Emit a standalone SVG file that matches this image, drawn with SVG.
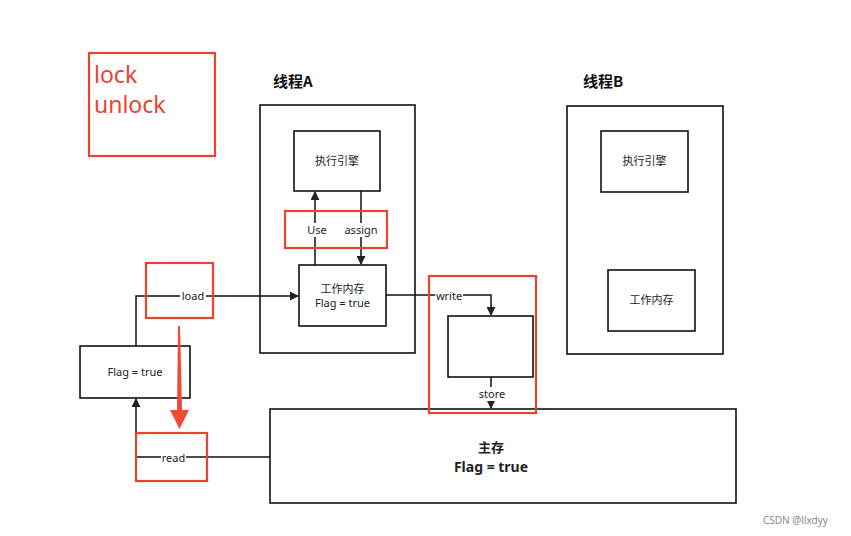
<svg xmlns="http://www.w3.org/2000/svg" width="851" height="536" viewBox="0 0 851 536">
<defs>
<marker id="arr" viewBox="0 0 10 10" refX="9" refY="5" markerWidth="9" markerHeight="9" orient="auto" markerUnits="userSpaceOnUse">
<path d="M0,0 L10,5 L0,10 Z" fill="#222"/>
</marker>
<style>
.box{fill:#fff;stroke:#111;stroke-width:1.6}
.red{fill:none;stroke:#e8432f;stroke-width:2.2}
.ln{fill:none;stroke:#111;stroke-width:1.5}
.t{font-family:"Noto Sans CJK SC","Noto Sans",sans-serif;font-size:11px;fill:#222;text-anchor:middle}
.lbl{font-family:"Noto Sans","Noto Sans CJK SC",sans-serif;font-size:11px;fill:#222;text-anchor:middle}
.h{font-family:"Noto Sans CJK SC","Noto Sans",sans-serif;font-size:15px;font-weight:bold;fill:#111}
.bg{fill:#fff}
</style>
</defs>
<rect width="851" height="536" fill="#fff"/>

<g id="threadA">
<text class="h" x="273" y="87">线程A</text>
<rect class="box" x="260" y="105" width="155" height="248"/>
</g>
<g id="threadB">
<text class="h" x="583" y="87">线程B</text>
<rect class="box" x="567" y="106" width="156" height="248"/>
</g>
<g id="engineA">
<rect class="box" x="294" y="131" width="86" height="60"/>
<text class="t" x="337" y="165">执行引擎</text>
</g>
<g id="workA">
<rect class="box" x="299" y="265" width="87" height="61"/>
<text class="t" x="342.5" y="293">工作内存</text>
<text class="lbl" x="342.5" y="307">Flag = true</text>
</g>
<g id="engineB">
<rect class="box" x="601" y="131" width="87" height="61"/>
<text class="t" x="644.5" y="165">执行引擎</text>
</g>
<g id="workB">
<rect class="box" x="608" y="270" width="87" height="61"/>
<text class="t" x="651.5" y="304">工作内存</text>
</g>
<g id="flagLeft">
<rect class="box" x="80" y="346" width="110" height="52"/>
<text class="lbl" x="135" y="376">Flag = true</text>
</g>
<g id="writeBox">
<rect class="box" x="448" y="316" width="85" height="61"/>
</g>
<g id="mainMem">
<rect class="box" x="270" y="409" width="466" height="94"/>
<text class="t" x="491" y="452" style="font-size:13px;font-weight:bold">主存</text>
<text class="lbl" x="491" y="472" style="font-size:14px;font-weight:bold">Flag = true</text>
</g>

<g id="connectors">
<path class="ln" d="M315,265 L315,192" marker-end="url(#arr)"/>
<path class="ln" d="M361,191 L361,264" marker-end="url(#arr)"/>
<path class="ln" d="M136,346 L136,296 L298,296" marker-end="url(#arr)"/>
<path class="ln" d="M270,457 L136,457 L136,399" marker-end="url(#arr)"/>
<path class="ln" d="M386,295 L491,295 L491,315" marker-end="url(#arr)"/>
<path class="ln" d="M491,377 L491,408" marker-end="url(#arr)"/>
<rect class="bg" x="306" y="223" width="22" height="14"/>
<text class="lbl" x="317" y="234">Use</text>
<rect class="bg" x="343" y="223" width="36" height="14"/>
<text class="lbl" x="361" y="234">assign</text>
<rect class="bg" x="180" y="289" width="26" height="14"/>
<text class="lbl" x="193" y="300">load</text>
<rect class="bg" x="161" y="451" width="25" height="14"/>
<text class="lbl" x="173.5" y="462">read</text>
<rect class="bg" x="435" y="289" width="28" height="14"/>
<text class="lbl" x="449" y="300">write</text>
<rect class="bg" x="477" y="387" width="30" height="14"/>
<text class="lbl" x="492" y="398">store</text>
</g>

<g id="annotations">
<rect class="red" x="89" y="53" width="126" height="103"/>
<text x="94" y="83" style="font-family:'Noto Sans','Open Sans',sans-serif;font-size:23px;fill:#e8432f">lock</text>
<text x="94" y="113" style="font-family:'Noto Sans','Open Sans',sans-serif;font-size:23px;fill:#e8432f">unlock</text>
<rect class="red" x="285" y="211" width="102" height="37"/>
<rect class="red" x="146" y="263" width="67" height="55"/>
<rect class="red" x="136" y="433" width="71" height="48"/>
<rect class="red" x="429" y="276" width="107" height="137"/>
<path d="M178,326 L180,326 L182,410 L189,410 L179.5,429 L170,410 L177,410 Z" fill="#f04a35"/>
</g>

<text x="763" y="524" style="font-family:'Noto Sans',sans-serif;font-size:10px;fill:#888">CSDN @llxdyy</text>
</svg>
